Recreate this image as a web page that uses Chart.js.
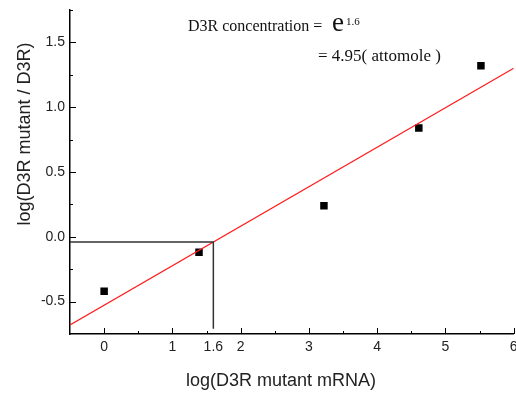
<!DOCTYPE html>
<html>
<head>
<meta charset="utf-8">
<script src="https://cdn.jsdelivr.net/npm/chart.js@4.4.1/dist/chart.umd.min.js"></script>
<style>
  html, body { margin: 0; padding: 0; background: #fff; overflow: hidden; }
  #wrap { width: 516px; height: 394px; overflow: hidden; }
</style>
</head>
<body>
<div id="wrap"><canvas id="c" width="519" height="394"></canvas></div>
<script>
// measured points
var xVals = [0, 1.39, 3.22, 4.61, 5.52];
var yVals = [-0.42, -0.12, 0.24, 0.84, 1.32];

// linear fit (red line) end points
var fitX = [-0.5, 6];
var fitY = [-0.68, 1.30];

// read-off guide lines at log value 1.6
var guideX = [-0.5, 1.6, 1.6];
var guideY = [-0.04, -0.04, -0.71];

// axes
var xTickLabels = [0, 1, 1.6, 2, 3, 4, 5, 6];
var xMajor = [0, 1, 2, 3, 4, 5, 6];
var xMinor = [0.5, 1.5, 2.5, 3.5, 4.5, 5.5];
var yMajor = [-0.5, 0, 0.5, 1.0, 1.5];
var yMinor = [-0.25, 0.25, 0.75, 1.25, 1.75];

var TICK_FONT = { family: '"Liberation Sans", Arial, sans-serif', size: 14 };

function toXY(xs, ys) {
  return xs.map(function(x, i) { return { x: x, y: ys[i] }; });
}

// inward tick marks, axis titles and the annotation
var extrasPlugin = {
  id: 'extras',
  afterDraw: function(chart) {
    var ctx = chart.ctx;
    var xs = chart.scales.x, ys = chart.scales.y;
    var area = chart.chartArea;
    ctx.save();
    ctx.strokeStyle = '#000';
    ctx.lineWidth = 1;
    ctx.beginPath();
    xMajor.forEach(function(v) {
      var px = Math.round(xs.getPixelForValue(v)) + 0.5;
      ctx.moveTo(px, area.bottom); ctx.lineTo(px, area.bottom - 6);
    });
    xMinor.forEach(function(v) {
      var px = Math.round(xs.getPixelForValue(v)) + 0.5;
      ctx.moveTo(px, area.bottom); ctx.lineTo(px, area.bottom - 3);
    });
    yMajor.forEach(function(v) {
      var py = Math.round(ys.getPixelForValue(v)) + 0.5;
      ctx.moveTo(area.left, py); ctx.lineTo(area.left + 6, py);
    });
    yMinor.forEach(function(v) {
      var py = Math.round(ys.getPixelForValue(v)) + 0.5;
      ctx.moveTo(area.left, py); ctx.lineTo(area.left + 3, py);
    });
    ctx.stroke();

    // axis titles
    ctx.fillStyle = '#222';
    ctx.font = '18px "Liberation Sans", Arial, sans-serif';
    ctx.textAlign = 'center';
    ctx.textBaseline = 'middle';
    ctx.fillText('log(D3R mutant mRNA)', 281, 381);
    ctx.save();
    ctx.translate(25, 134);
    ctx.rotate(-Math.PI / 2);
    ctx.fillText('log(D3R mutant / D3R)', 0, 0);
    ctx.restore();

    // annotation
    ctx.fillStyle = '#111';
    ctx.textAlign = 'left';
    ctx.textBaseline = 'alphabetic';
    ctx.font = '16px "Liberation Serif", "Times New Roman", serif';
    ctx.fillText('D3R concentration =', 188, 31);
    ctx.font = '27px "Liberation Serif", "Times New Roman", serif';
    ctx.fillText('e', 332, 31);
    ctx.font = '11px "Liberation Serif", "Times New Roman", serif';
    ctx.fillText('1.6', 346, 25);
    ctx.font = '17px "Liberation Serif", "Times New Roman", serif';
    ctx.fillText('= 4.95( attomole )', 318, 61);
    ctx.restore();
  }
};

new Chart(document.getElementById('c'), {
  type: 'scatter',
  data: {
    datasets: [
      {
        label: 'guide',
        data: toXY(guideX, guideY),
        showLine: true,
        borderColor: '#333',
        borderWidth: 1.5,
        pointRadius: 0,
        fill: false
      },
      {
        label: 'fit',
        data: toXY(fitX, fitY),
        showLine: true,
        borderColor: '#ff1a1a',
        borderWidth: 1.2,
        pointRadius: 0,
        fill: false
      },
      {
        label: 'data',
        data: toXY(xVals, yVals),
        pointStyle: 'rect',
        pointRadius: 5.3,
        backgroundColor: '#000',
        borderColor: '#000',
        borderWidth: 0,
        showLine: false
      }
    ]
  },
  options: {
    responsive: false,
    animation: false,
    layout: { padding: { top: 10, right: 2, left: 0, bottom: 0 } },
    plugins: {
      legend: { display: false },
      tooltip: { enabled: false }
    },
    scales: {
      x: {
        type: 'linear',
        min: -0.5,
        max: 6,
        afterFit: function(scale) {
          scale.height = 60;
          scale.paddingRight = 0;
          scale.paddingLeft = 0;
        },
        afterBuildTicks: function(scale) {
          scale.ticks = xTickLabels.map(function(v) { return { value: v }; });
        },
        grid: { display: false, drawTicks: false },
        border: { display: true, color: '#000', width: 1.5 },
        ticks: {
          font: TICK_FONT,
          color: '#222',
          padding: 5,
          maxRotation: 0,
          autoSkip: false,
          callback: function(v) { return String(v); }
        }
      },
      y: {
        type: 'linear',
        min: -0.75,
        max: 1.75,
        afterFit: function(scale) {
          scale.width = 70;
          scale.paddingTop = 0;
          scale.paddingBottom = 0;
        },
        grid: { display: false, drawTicks: false },
        border: { display: true, color: '#000', width: 1.5 },
        ticks: {
          stepSize: 0.25,
          font: TICK_FONT,
          color: '#222',
          padding: 5,
          callback: function(v) {
            var r = Math.round(v * 100) / 100;
            if (Math.abs(r * 2 - Math.round(r * 2)) > 1e-6) return '';
            return r.toFixed(1);
          }
        }
      }
    }
  },
  plugins: [extrasPlugin]
});
</script>
</body>
</html>
